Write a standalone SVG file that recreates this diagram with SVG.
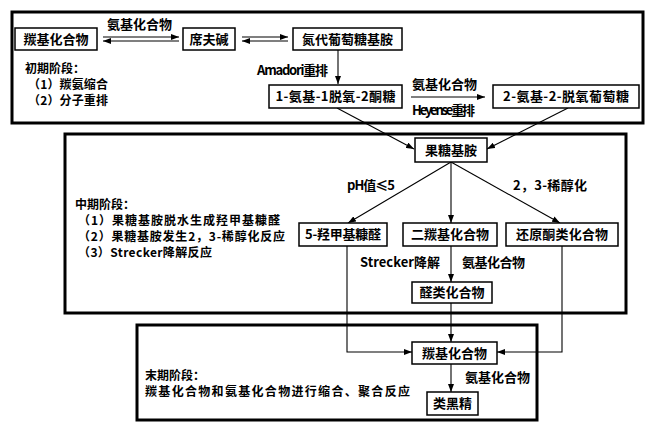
<svg xmlns="http://www.w3.org/2000/svg" width="654" height="431" viewBox="0 0 654 431">
<style>
.stage{fill:none;stroke:#000;stroke-width:3}
.node rect{fill:#fff;stroke:#000;stroke-width:1.5}
text{font-family:"Noto Sans CJK SC","Noto Sans CJK JP",sans-serif;font-size:13px;font-weight:bold;fill:#000}
.s{font-size:12px}
.c{text-anchor:middle}
#connectors path{fill:none;stroke:#000;stroke-width:1.1}
</style>
<defs>
<marker id="ah" markerUnits="userSpaceOnUse" markerWidth="8" markerHeight="6" refX="8" refY="3" orient="auto"><path d="M0,0 L8,3 L0,6 z" fill="#000"/></marker>
</defs>
<rect width="654" height="431" fill="#fff"/>
<g id="stages">
<rect class="stage" x="12" y="12" width="631" height="111"/>
<rect class="stage" x="65" y="134" width="561" height="179"/>
<rect class="stage" x="137" y="325" width="400" height="95"/>
</g>
<g id="connectors">
<path d="M103,37 L179,37" marker-end="url(#ah)"/>
<path d="M179,41 L103,41" marker-end="url(#ah)"/>
<path d="M242,37 L288,37" marker-end="url(#ah)"/>
<path d="M288,41 L242,41" marker-end="url(#ah)"/>
<path d="M338,50 L338,84" marker-end="url(#ah)"/>
<path d="M411,97 L485,97" marker-end="url(#ah)"/>
<path d="M337,108 L414,149" marker-end="url(#ah)"/>
<path d="M568,108 L487,149" marker-end="url(#ah)"/>
<path d="M451,162 L348,223" marker-end="url(#ah)"/>
<path d="M451,162 L451,223" marker-end="url(#ah)"/>
<path d="M451,162 L560,223" marker-end="url(#ah)"/>
<path d="M451,246 L451,282" marker-end="url(#ah)"/>
<path d="M347,246 L347,352 L412,352" marker-end="url(#ah)"/>
<path d="M562,246 L562,352 L497,352" marker-end="url(#ah)"/>
<path d="M451,303 L451,342" marker-end="url(#ah)"/>
<path d="M451,364 L451,392" marker-end="url(#ah)"/>
</g>
<g id="labels">
<text x="139.5" y="28.5" class="c" textLength="65">氨基化合物</text>
<text x="25" y="73" class="s">初期阶段：</text>
<text x="28" y="89" class="s" textLength="80">（1）羰氨缩合</text>
<text x="28" y="105" class="s" textLength="80">（2）分子重排</text>
<text x="257" y="74.5" textLength="71">Amadori重排</text>
<text x="444.5" y="88.5" class="c" textLength="65">氨基化合物</text>
<text x="443.5" y="114.5" class="c" textLength="63">Heyense重排</text>
<text x="371" y="189.5" class="c" textLength="48">pH值≤5</text>
<text x="550" y="189.5" class="c" textLength="74">2，3-稀醇化</text>
<text x="75" y="209" class="s">中期阶段：</text>
<text x="78" y="225" class="s" textLength="202">（1）果糖基胺脱水生成羟甲基糠醛</text>
<text x="78" y="241" class="s" textLength="207">（2）果糖基胺发生2，3-稀醇化反应</text>
<text x="78" y="257" class="s" textLength="134">（3）Strecker降解反应</text>
<text x="360" y="266.5" textLength="80">Strecker降解</text>
<text x="462" y="266.5" textLength="63">氨基化合物</text>
<text x="465" y="381.5" textLength="65">氨基化合物</text>
<text x="145" y="380" class="s">末期阶段：</text>
<text x="145" y="396" class="s" textLength="265">羰基化合物和氨基化合物进行缩合、聚合反应</text>
</g>
<g id="n1" class="node"><rect x="15" y="28" width="82" height="22"/><text x="56" y="43.5" class="c">羰基化合物</text></g>
<g id="n2" class="node"><rect x="183" y="28" width="52" height="22"/><text x="209" y="43.5" class="c">席夫碱</text></g>
<g id="n3" class="node"><rect x="293" y="28" width="109" height="22"/><text x="347.5" y="43.5" class="c">氮代葡萄糖基胺</text></g>
<g id="n4" class="node"><rect x="269" y="85" width="133" height="23"/><text x="335.5" y="101" class="c" textLength="120">1-氨基-1脱氧-2酮糖</text></g>
<g id="n5" class="node"><rect x="493" y="85" width="146" height="23"/><text x="566" y="101" class="c" textLength="126">2-氨基-2-脱氧葡萄糖</text></g>
<g id="n6" class="node"><rect x="415" y="138" width="72" height="24"/><text x="451" y="154.5" class="c">果糖基胺</text></g>
<g id="n7" class="node"><rect x="299" y="223" width="88" height="23"/><text x="343" y="239" class="c" textLength="76">5-羟甲基糠醛</text></g>
<g id="n8" class="node"><rect x="403" y="223" width="94" height="23"/><text x="450" y="239" class="c" textLength="78">二羰基化合物</text></g>
<g id="n9" class="node"><rect x="506" y="223" width="112" height="23"/><text x="562" y="239" class="c" textLength="92">还原酮类化合物</text></g>
<g id="n10" class="node"><rect x="412" y="282" width="80" height="21"/><text x="452" y="297" class="c">醛类化合物</text></g>
<g id="n11" class="node"><rect x="412" y="342" width="85" height="22"/><text x="454.5" y="357.5" class="c">羰基化合物</text></g>
<g id="n12" class="node"><rect x="427" y="392" width="51" height="23"/><text x="452.5" y="408" class="c">类黑精</text></g>
</svg>
